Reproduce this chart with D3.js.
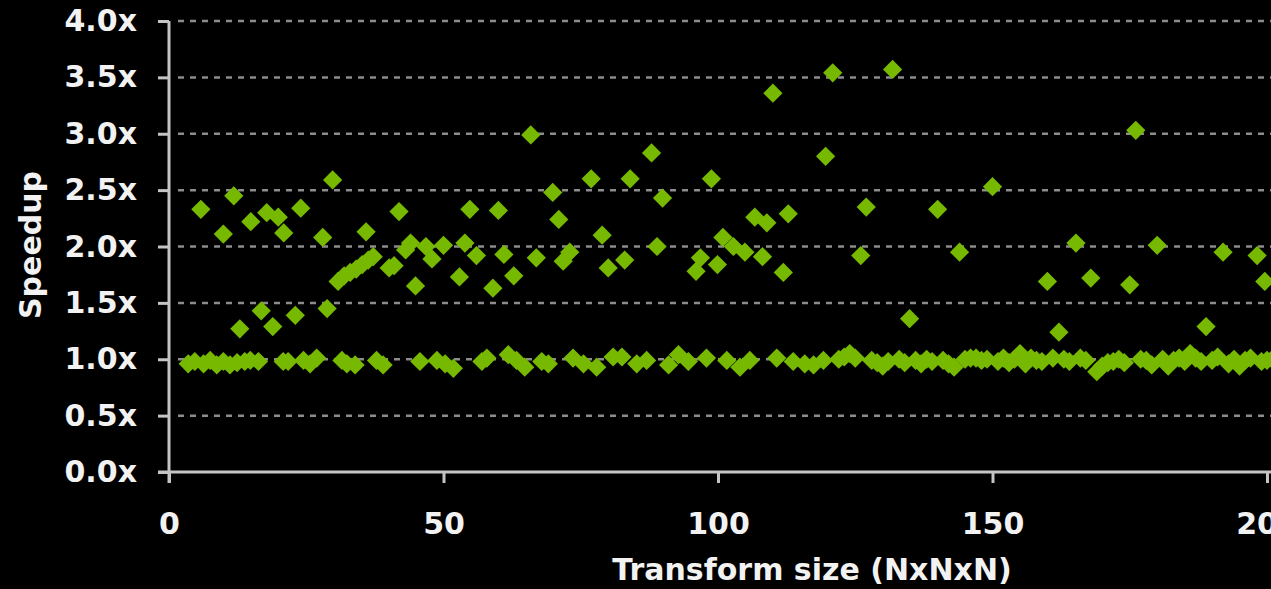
<!DOCTYPE html>
<html>
<head>
<meta charset="utf-8">
<script src="https://cdn.jsdelivr.net/npm/d3@7"></script>
<style>
	html, body { margin: 0; padding: 0; background: #000; }
	svg { display: block; }
	.tick text, .label { font-family: "DejaVu Sans", sans-serif; font-weight: bold; fill: #f2f2f2; }
</style>
</head>
<body>
<div id="chart"></div>
<script>

// points well above 1x: [transform size, speedup]
var highSize = [5.8, 9.9, 11.8, 12.9, 14.9, 16.8, 17.8, 18.9, 19.9, 20.9, 23, 24, 28, 28.8, 29.8,
	30.8, 31.9, 33, 34.1, 35.2, 35.9, 36.3, 37.2, 40.1, 41, 41.9, 43.1, 44, 44.9, 46.8, 47.9,
	50, 52.9, 53.9, 54.8, 56, 59, 60, 61, 62.8, 65.9, 66.9, 69.9, 71, 71.8, 73, 76.9, 78.9,
	80, 83, 84, 87.9, 88.9, 89.9, 96, 96.8, 98.8, 99.9, 100.9, 102.8, 104.9, 106.7, 108.1,
	108.9, 110, 111.9, 112.8, 119.6, 120.9, 126, 127, 131.8, 134.9, 140, 144, 150, 160,
	162.1, 165.2, 167.9, 175, 176.1, 180, 188.9, 192, 198.2, 199.6];
var highSpeedup = [2.33, 2.11, 2.45, 1.27, 2.22, 1.43, 2.30, 1.29, 2.26, 2.12, 1.39, 2.34, 2.08, 1.45, 2.59,
	1.69, 1.74, 1.77, 1.80, 1.84, 2.13, 1.88, 1.91, 1.81, 1.83, 2.31, 1.97, 2.03, 1.65, 2.00, 1.89,
	2.01, 1.73, 2.03, 2.33, 1.92, 1.63, 2.32, 1.93, 1.74, 2.99, 1.90, 2.48, 2.24, 1.87, 1.95, 2.60, 2.10,
	1.81, 1.88, 2.60, 2.83, 2.00, 2.43, 1.78, 1.90, 2.60, 1.84, 2.08, 2.00, 1.95, 2.26, 1.91,
	2.21, 3.36, 1.77, 2.29, 2.80, 3.54, 1.92, 2.35, 3.57, 1.36, 2.33, 1.95, 2.53, 1.69,
	1.24, 2.03, 1.72, 1.66, 3.03, 2.01, 1.29, 1.95, 1.92, 1.69];

// points around 1x
var flatSize = [3.5, 4.7, 6.3, 7.5, 8.7, 9.9, 11.1, 12.4, 13.8, 14.8, 16.3, 20.8, 21.7, 24.5, 25.7, 26.9,
	31.5, 32.4, 33.9, 37.8, 39, 45.7, 48.8, 50.3, 51.8, 57, 57.9, 61.8, 63.3, 64.8, 67.9, 69.1,
	73.6, 75.5, 77.9, 80.9, 82.5, 85.2, 87, 91, 92.8, 94.6, 97.9, 101.6, 104, 105.8, 110.7,
	113.7, 115.8, 117.4, 119.2, 122, 123, 124, 125, 128, 129, 130, 131, 133, 134, 136, 137,
	138, 139, 141, 142, 143, 145, 146, 147, 148, 149, 151, 152, 153, 154, 155, 156, 157, 158,
	159, 161, 163, 164, 166, 167, 169, 170, 171, 172, 173, 174, 177, 178, 179, 181, 182, 183,
	184, 185, 186, 187, 188, 190, 191, 193, 194, 195, 196, 197, 199, 200, 201];
var flatSpeedup = [0.96, 0.98, 0.96, 0.99, 0.95, 0.98, 0.95, 0.97, 0.98, 0.99, 0.98, 0.98, 0.98, 0.99, 0.96, 1.01,
	0.99, 0.96, 0.95, 0.99, 0.95, 0.98, 0.99, 0.96, 0.92, 0.98, 1.01, 1.04, 0.99, 0.93, 0.98, 0.96,
	1.01, 0.96, 0.93, 1.02, 1.02, 0.96, 0.99, 0.95, 1.04, 0.98, 1.01, 0.99, 0.93, 0.99, 1.01,
	0.98, 0.96, 0.95, 0.99, 1.00, 1.02, 1.05, 1.01, 0.99, 0.97, 0.94, 0.98, 1.00, 0.97, 0.99, 0.96,
	1.00, 0.98, 0.99, 0.96, 0.93, 1.00, 1.01, 1.01, 0.99, 1.00, 0.98, 1.01, 0.97, 1.00, 1.05, 0.96, 1.01, 0.99,
	0.98, 1.01, 1.00, 0.98, 1.01, 0.99, 0.89, 0.94, 0.97, 0.98, 1.00, 0.97, 1.00, 0.99, 0.95, 1.00, 0.94, 0.99,
	1.01, 0.98, 1.05, 1.01, 0.98, 0.99, 1.02, 0.96, 1.00, 0.94, 0.99, 1.01, 0.98, 0.99, 1.00];

var xTicks = [0, 50, 100, 150, 200];
var yTicks = [0, 0.5, 1, 1.5, 2, 2.5, 3, 3.5, 4];

var xLabel = "Transform size (NxNxN)",
	yLabel = "Speedup";

var width = 1271,
	height = 589,
	green = "#76b900",
	axisColor = "#c4c4c4";

var svg = d3.select("#chart").append("svg")
	.attr("width", width)
	.attr("height", height)
	.style("background", "#000");

var xScale = d3.scaleLinear().domain([0, 200]).range([169, 1267]);
var yScale = d3.scaleLinear().domain([0, 4]).range([472, 21]);

// dashed grid lines
svg.append("g").selectAll("line")
	.data(yTicks.filter(function(d){ return d > 0 })).enter()
	.append("line")
		.attr("x1", xScale(0) + 9)
		.attr("x2", width + 5)
		.attr("y1", function(d){ return yScale(d) })
		.attr("y2", function(d){ return yScale(d) })
		.style("stroke", "#8c8c8c")
		.style("stroke-width", 2.5)
		.style("stroke-dasharray", "6,6");

// axes
var yAxis = d3.axisLeft(yScale)
	.tickValues(yTicks)
	.tickSize(11)
	.tickPadding(21)
	.tickFormat(function(d){ return d3.format(".1f")(d) + "x" });

var xAxis = d3.axisBottom(xScale)
	.tickValues(xTicks)
	.tickSize(11)
	.tickPadding(30)
	.tickFormat(d3.format("d"));

var gy = svg.append("g")
	.attr("class", "y axis")
	.attr("transform", "translate(" + xScale(0) + ",0)")
	.call(yAxis);

var gx = svg.append("g")
	.attr("class", "x axis")
	.attr("transform", "translate(0," + yScale(0) + ")")
	.call(xAxis);

svg.selectAll(".axis .domain").remove();
svg.selectAll(".axis line").style("stroke", axisColor).style("stroke-width", 3);
svg.selectAll(".axis text").style("font-size", "30px").style("fill", "#f2f2f2");

// axis lines (x axis runs past the right edge)
svg.append("line")
	.attr("x1", xScale(0)).attr("x2", xScale(0))
	.attr("y1", yScale(4)).attr("y2", yScale(0) + 11)
	.style("stroke", axisColor).style("stroke-width", 3);
svg.append("line")
	.attr("x1", xScale(0) - 11).attr("x2", width + 5)
	.attr("y1", yScale(0)).attr("y2", yScale(0))
	.style("stroke", axisColor).style("stroke-width", 3);

// points
var points = [];
highSize.forEach(function(d, i){ points.push({ n: d, s: highSpeedup[i] }) });
flatSize.forEach(function(d, i){ points.push({ n: d, s: flatSpeedup[i] }) });

var diamond = d3.symbol().type(d3.symbolSquare).size(185);

svg.append("g").selectAll("path")
	.data(points).enter()
	.append("path")
		.attr("d", diamond)
		.attr("transform", function(d){ return "translate(" + xScale(d.n) + "," + yScale(d.s) + ") rotate(45)" })
		.style("fill", green);

// axis labels
svg.append("text")
	.attr("class", "label")
	.attr("x", 812)
	.attr("y", 580)
	.style("text-anchor", "middle")
	.style("font-size", "30px")
	.text(xLabel);

svg.append("text")
	.attr("class", "label")
	.attr("transform", "translate(41,245) rotate(-90)")
	.style("text-anchor", "middle")
	.style("font-size", "30px")
	.text(yLabel);

</script>
</body>
</html>
